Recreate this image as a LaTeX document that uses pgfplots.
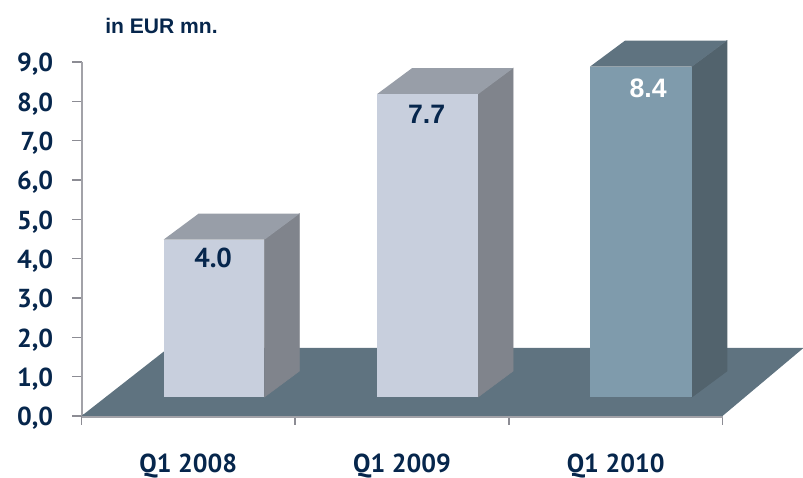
\documentclass[border=0pt]{standalone}
\usepackage{pgfplots}
\pgfplotsset{compat=1.18}
\usepackage{fontspec}
\setmainfont{PT Sans}
\newfontfamily\arialish{Liberation Sans}
% one drawing unit of this sheet: 803 of them across
\newlength{\pu}\setlength{\pu}{0.75pt}
\definecolor{navy}{HTML}{06264C}
\definecolor{floorc}{HTML}{5F7380}
\definecolor{lightface}{HTML}{C8CFDD}
\definecolor{lightside}{HTML}{80848C}
\definecolor{lighttop}{HTML}{989EA8}
\definecolor{darkface}{HTML}{7F9BAC}
\definecolor{darkside}{HTML}{52636D}
\definecolor{darktop}{HTML}{5F7380}
\definecolor{axisgray}{HTML}{A2A2A8}
\definecolor{tickgray}{HTML}{8C8C94}
\begin{document}
\begin{tikzpicture}[x=\pu,y=\pu]
\useasboundingbox (0,0) rectangle (803,478);
\begin{axis}[
  at={(81.5\pu,62\pu)}, anchor=south west,
  scale only axis,
  width=641\pu, height=354\pu,
  xmin=0, xmax=3, ymin=0, ymax=9,
  clip=false,
  axis x line*=bottom, axis y line*=left,
  axis line style={draw=axisgray, line width=2\pu, -},
  x axis line style={line width=3.5\pu},
  xtick={0,1,2,3},
  xticklabels={Q1 2008,Q1 2009,Q1 2010},
  x tick label as interval=true,
  ytick={0,1,2,3,4,5,6,7,8,9},
  tick align=outside,
  major tick length=9\pu,
  tick style={draw=tickgray, line width=1.5\pu},
  every tick/.style={draw=tickgray, line width=1.5\pu},
  yticklabel style={
    /pgf/number format/.cd, fixed, fixed zerofill, precision=1, use comma, assume math mode=true,
    /tikz/.cd, font=\fontsize{19.5pt}{21pt}\selectfont\bfseries, text=navy, inner sep=0pt, anchor=east, xshift=-19\pu, yshift=-2.5\pu},
  xticklabel style={font=\fontsize{19.5pt}{21pt}\selectfont\bfseries, text=navy, inner sep=0pt, anchor=center, yshift=-41\pu},
]
% ground plate
\addplot[fill=floorc, draw=none, forget plot] coordinates {(0,0) (3,0) (3.379,1.73) (0.407,1.73)} -- cycle;

% Q1 2008
\addplot[fill=lightside, draw=lightside, line width=0.6\pu, yshift=19\pu, forget plot] coordinates {(0.856,0) (0.856,4.0) (1.020,4.661) (1.020,0.661)} -- cycle;
\addplot[fill=lighttop, draw=none, yshift=19\pu, forget plot] coordinates {(0.384,4.0) (0.856,4.0) (1.020,4.661) (0.548,4.661)} -- cycle;
\addplot[ybar, bar width=0.472, bar shift=0, fill=lightface, draw=none, yshift=19\pu, forget plot] coordinates {(0.62,4.0)};

% Q1 2009
\addplot[fill=lightside, draw=lightside, line width=0.6\pu, yshift=19\pu, forget plot] coordinates {(1.856,0) (1.856,7.7) (2.020,8.361) (2.020,0.661)} -- cycle;
\addplot[fill=lighttop, draw=none, yshift=19\pu, forget plot] coordinates {(1.383,7.7) (1.856,7.7) (2.020,8.361) (1.547,8.361)} -- cycle;
\addplot[ybar, bar width=0.473, bar shift=0, fill=lightface, draw=none, yshift=19\pu, forget plot] coordinates {(1.62,7.7)};

% Q1 2010
\addplot[fill=darkside, draw=darkside, line width=0.6\pu, yshift=19\pu, forget plot] coordinates {(2.857,0) (2.857,8.4) (3.021,9.061) (3.021,0.661)} -- cycle;
\addplot[fill=darktop, draw=none, yshift=19\pu, forget plot] coordinates {(2.380,8.4) (2.857,8.4) (3.021,9.061) (2.544,9.061)} -- cycle;
\addplot[ybar, bar width=0.477, bar shift=0, fill=darkface, draw=none, yshift=19\pu, forget plot] coordinates {(2.618,8.4)};

% value captions
\node[font=\fontsize{20.5pt}{22pt}\selectfont\bfseries, text=navy, inner sep=0pt] at (axis cs:0.616,4.03) {4.0};
\node[font=\arialish\fontsize{20pt}{22pt}\selectfont\bfseries, text=navy, inner sep=0pt] at (axis cs:1.615,7.68) {7.7};
\node[font=\arialish\fontsize{20pt}{22pt}\selectfont\bfseries, text=white, inner sep=0pt] at (axis cs:2.652,8.32) {8.4};
\end{axis}
\node[font=\arialish\fontsize{15.8pt}{18pt}\selectfont\bfseries, text=navy, inner sep=0pt, anchor=center] at (161.5,452) {in EUR mn.};
\end{tikzpicture}
\end{document}
